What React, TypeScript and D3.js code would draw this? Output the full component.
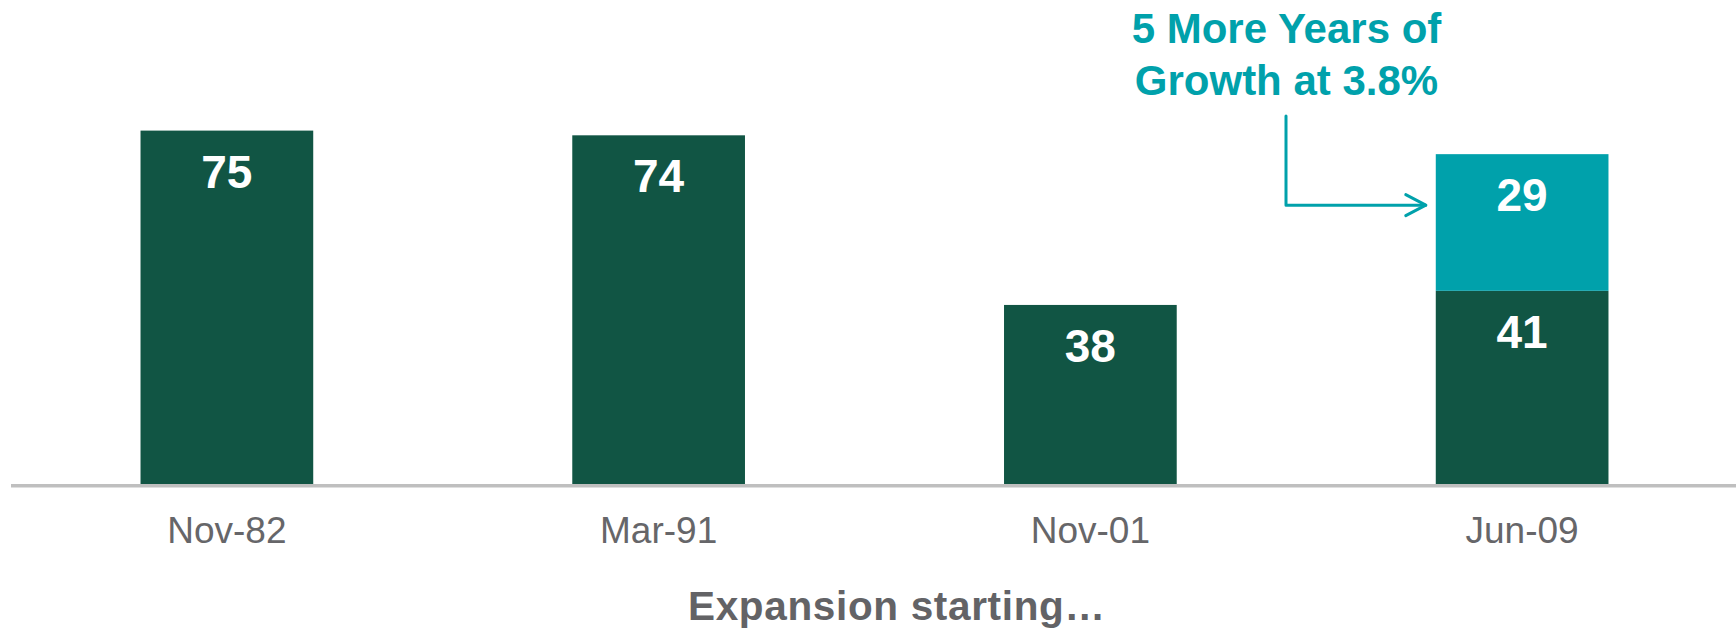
import React from "react";
import * as d3 from "d3";

const categories = ["Nov-82", "Mar-91", "Nov-01", "Jun-09"];
const baseValues = [75, 74, 38, 41];
const extraValues = [0, 0, 0, 29];
const annotationLines = ["5 More Years of", "Growth at 3.8%"];
const axisTitle = "Expansion starting…";

const W = 1736;
const H = 632;
const DARK = "#115544";
const TEAL = "#00A1AB";
const FONT = "Arial, 'Liberation Sans', Helvetica, sans-serif";

export default function App() {
  const x = d3
    .scaleBand<string>()
    .domain(categories)
    .range([11, 1738])
    .paddingInner(0.6)
    .paddingOuter(0.3);
  const y = d3.scaleLinear().domain([0, 100]).range([484, 12.8]);
  const bw = x.bandwidth();

  const last = categories[categories.length - 1];
  const lastX = x(last)!;
  const lastTotal = baseValues[3] + extraValues[3];
  const arrowY = y(lastTotal) + 51;
  const arrowX0 = 1286;
  const arrowTip = lastX - 10;

  return (
    <svg
      width={W}
      height={H}
      style={{ position: "absolute", left: 0, top: 0, background: "#fff" }}
      fontFamily={FONT}
    >
      {categories.map((c, i) => {
        const x0 = x(c)!;
        const cx = x0 + bw / 2;
        const b = baseValues[i];
        const e = extraValues[i];
        return (
          <g key={c}>
            <rect x={x0} y={y(b)} width={bw} height={y(0) - y(b)} fill={DARK} />
            <text
              x={cx}
              y={y(b) + 57}
              textAnchor="middle"
              fontSize={46}
              fontWeight="bold"
              fill="#fff"
            >
              {b}
            </text>
            {e > 0 && (
              <>
                <rect x={x0} y={y(b + e)} width={bw} height={y(b) - y(b + e)} fill={TEAL} />
                <text
                  x={cx}
                  y={y(b + e) + 57}
                  textAnchor="middle"
                  fontSize={46}
                  fontWeight="bold"
                  fill="#fff"
                >
                  {e}
                </text>
              </>
            )}
            <text
              x={cx}
              y={543}
              textAnchor="middle"
              fontSize={37}
              fill="#666669"
            >
              {c}
            </text>
          </g>
        );
      })}
      <line x1={11} x2={W} y1={485.8} y2={485.8} stroke="#BFBFBF" strokeWidth={3.4} />
      <text
        x={688}
        y={620}
        fontSize={40.5}
        fontWeight="bold"
        fill="#636366"
        textLength={417}
        lengthAdjust="spacing"
      >
        {axisTitle}
      </text>
      {annotationLines.map((t, i) => (
        <text
          key={t}
          x={1286.5}
          y={42.7 + i * 52.5}
          textAnchor="middle"
          fontSize={42}
          fontWeight="bold"
          fill={TEAL}
        >
          {t}
        </text>
      ))}
      <path
        d={`M${arrowX0},116 L${arrowX0},${arrowY} L${arrowTip},${arrowY}`}
        fill="none"
        stroke={TEAL}
        strokeWidth={3}
        strokeLinecap="round"
        strokeLinejoin="round"
      />
      <path
        d={`M${arrowTip - 20},${arrowY - 10.5} L${arrowTip},${arrowY} L${arrowTip - 20},${arrowY + 10.5}`}
        fill="none"
        stroke={TEAL}
        strokeWidth={3}
        strokeLinecap="round"
        strokeLinejoin="round"
      />
    </svg>
  );
}
